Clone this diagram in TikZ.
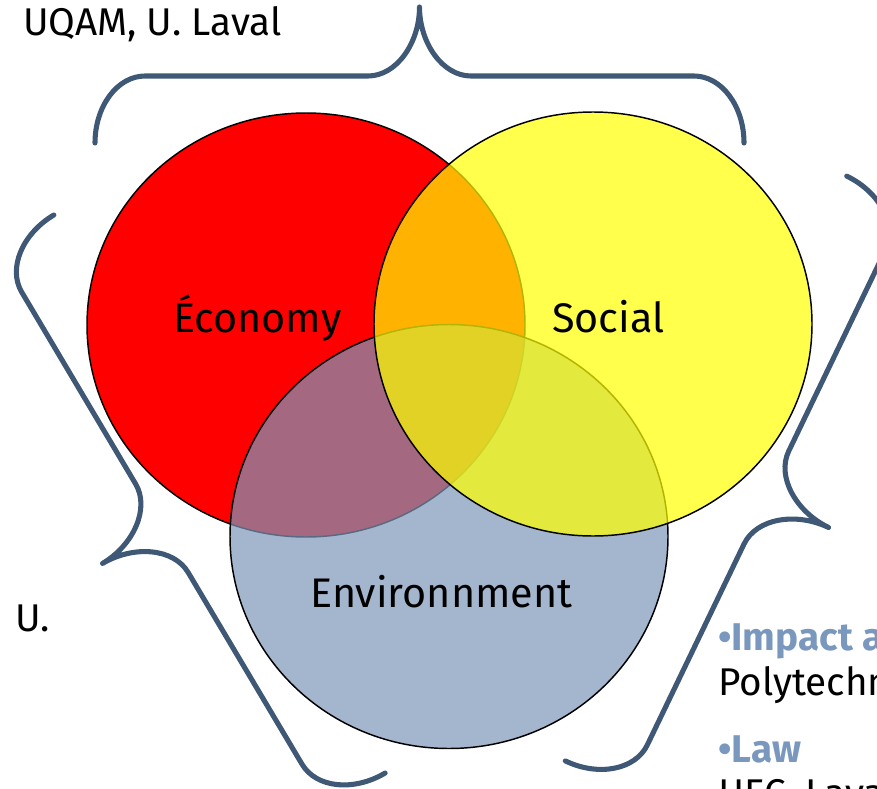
\documentclass[tikz,border=0pt]{standalone}
\usepackage{fontspec}
\setmainfont{Fira Sans}
\usepackage{tikz}
\usetikzlibrary{shapes.geometric}
\definecolor{bracecol}{RGB}{62,88,117}
\definecolor{envblue}{RGB}{126,151,184}
\definecolor{socyellow}{RGB}{255,255,0}
\definecolor{headblue}{RGB}{122,152,190}
\tikzset{
  venn/.style={ellipse, draw=black, line width=1.1pt, inner sep=0pt,
    minimum width=328.5pt, minimum height=318pt},
  lbl/.style={anchor=base west, inner sep=0pt, font=\fontsize{29}{34}\selectfont},
  biglbl/.style={lbl, font=\fontsize{31}{36}\selectfont},
  head/.style={lbl, text=headblue, font=\fontsize{29}{34}\selectfont\bfseries},
  curly/.pic={\draw[bracecol, line width=3.8pt, line cap=round, line join=round]
    (-324.5,0) .. controls (-324.5,-37) and (-302,-67) .. (-274.5,-67)
    -- (-51.5,-67) .. controls (-23,-67) and (0,-100) .. (0,-136)
    .. controls (0,-100) and (23,-67) .. (51.5,-67)
    -- (274.5,-67) .. controls (302,-67) and (324.5,-37) .. (324.5,0);}
}
\begin{document}
\begin{tikzpicture}[x=0.75pt,y=-0.75pt]
\useasboundingbox (0,0) rectangle (877,788);
\clip (0,0) rectangle (877,788);
% braces
\pic at (419.5,143) {curly};
\pic[rotate=120.7] at (219.5,494) {curly};
\pic[rotate=-115.7] at (706,468.5) {curly};
% circles
\node[venn, fill=red] (econ) at (306,325) {};
\node[venn, fill=envblue, fill opacity=0.7] (env) at (449,536.5) {};
\node[venn, fill=socyellow, fill opacity=0.7] (soc) at (593,324) {};
% labels
\node[biglbl] (econlbl) at (173,332) {Économy};
\node[biglbl] (soclbl) at (552,332) {Social};
\node[biglbl] (envlbl) at (310,607) {Environnment};
\node[lbl] (top) at (23,36) {UQAM, U. Laval};
\node[lbl] (left) at (15,631) {U.};
\node[head] (impact) at (718,650) {•Impact a};
\node[lbl] (poly) at (718,695) {Polytechn};
\node[head] (law) at (718,762) {•Law};
\node[lbl] (hec) at (718,806) {HEC, Lava};
\end{tikzpicture}
\end{document}
